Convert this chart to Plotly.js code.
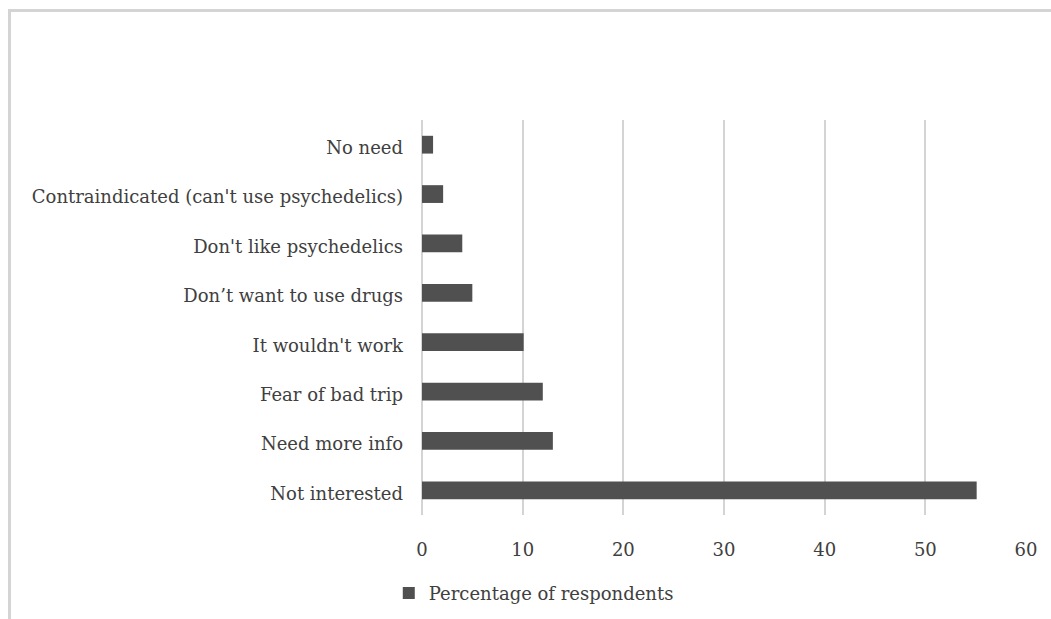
<!DOCTYPE html>
<html>
<head>
<meta charset="utf-8">
<script src="https://cdn.plot.ly/plotly-3.0.1.min.js"></script>
<style>
  html, body { margin: 0; padding: 0; background: #fff; }
  #wrap { position: relative; width: 1051px; height: 619px; overflow: hidden; }
  #chart { width: 1051px; height: 619px; }
  #frame { position: absolute; left: 8px; top: 9px; width: 1100px; height: 700px;
           border-top: 3px solid #d4d4d4; border-left: 3px solid #d4d4d4; pointer-events: none; }
</style>
</head>
<body>
<div id="wrap">
  <div id="chart"></div>
  <div id="frame"></div>
</div>
<script>
const categories = [
  "No need",
  "Contraindicated (can't use psychedelics)",
  "Don't like psychedelics",
  "Don’t want to use drugs",
  "It wouldn't work",
  "Fear of bad trip",
  "Need more info",
  "Not interested"
];
const percentages = [1.1, 2.1, 4.0, 5.0, 10.1, 12.0, 13.0, 55.1];
const seriesName = "Percentage of respondents";
const xTicks = [0, 10, 20, 30, 40, 50, 60];

const font = { family: "DejaVu Serif", size: 18, color: "#404040" };

Plotly.newPlot("chart", [{
  type: "bar",
  orientation: "h",
  y: categories,
  x: percentages,
  name: seriesName,
  marker: { color: "#505050" },
  showlegend: true,
  hoverinfo: "x+y"
}], {
  width: 1051,
  height: 619,
  margin: { l: 422, r: 25, t: 120, b: 104, autoexpand: false },
  paper_bgcolor: "#ffffff",
  plot_bgcolor: "#ffffff",
  font: font,
  bargap: 0.64,
  showlegend: true,
  legend: {
    orientation: "h",
    x: -0.055, xanchor: "left",
    y: -0.198, yanchor: "middle",
    font: font,
    itemwidth: 30
  },
  xaxis: {
    range: [0, 60],
    tickvals: xTicks,
    showgrid: true,
    gridcolor: "#d4d4d4",
    gridwidth: 2,
    zeroline: true,
    zerolinecolor: "#d4d4d4",
    zerolinewidth: 2,
    showline: false,
    ticks: "",
    ticklabelstandoff: 22,
    tickfont: font,
    fixedrange: true
  },
  yaxis: {
    type: "category",
    autorange: "reversed",
    showgrid: false,
    zeroline: false,
    showline: false,
    ticks: "",
    ticklabelstandoff: 18,
    ticklabelshift: -3,
    tickfont: font,
    fixedrange: true
  }
}, { displayModeBar: false, staticPlot: true });
</script>
</body>
</html>
